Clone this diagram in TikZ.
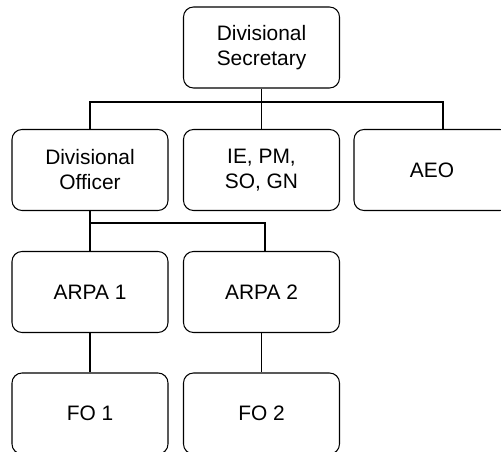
\documentclass[tikz,border=0pt]{standalone}
\usepackage{fontspec}
\setmainfont{Liberation Sans}
\usetikzlibrary{calc}

\tikzset{
  post/.style={draw, rounded corners=0.2cm, minimum width=3.12cm, minimum height=1.62cm,
    inner sep=0pt, align=center, line width=0.6pt, font=\fontsize{11.9}{14.2}\selectfont},
  link/.style={line width=0.6pt}
}

\begin{document}
\begin{tikzpicture}
\clip (0,0) rectangle (10.02,-9.04);
% boxes
\coordinate (S) at (5.23,-0.95);
\node[post] (ds) at (S) {Divisional\\Secretary};
\coordinate (R1) at (1.80,-3.40);
\node[post] (do) at (R1) {Divisional\\Officer};
\coordinate (R2) at (5.23,-3.40);
\node[post] (ie) at (R2) {IE, PM,\\SO, GN};
\coordinate (R3) at (8.64,-3.40);
\node[post] (aeo) at (R3) {AEO};
\coordinate (A1) at (1.80,-5.84);
\node[post] (arpa1) at (A1) {ARPA 1};
\coordinate (A2) at (5.23,-5.84);
\node[post] (arpa2) at (A2) {ARPA 2};
\coordinate (F1) at (1.80,-8.27);
\node[post] (fo1) at (F1) {FO 1};
\coordinate (F2) at (5.23,-8.27);
\node[post] (fo2) at (F2) {FO 2};
% lines
\coordinate (B1) at (0,-2.04);
\coordinate (B2) at (0,-4.46);
\draw[link] (ds.south) -- (ie.north);
\draw[link] (do.north) -- (do.north |- B1) -- ([xshift=0.22cm]aeo.north |- B1) -- ([xshift=0.22cm]aeo.north);
\draw[link] (do.south) -- (arpa1.north);
\draw[link] (do.south |- B2) -| ([xshift=0.07cm]arpa2.north);
\draw[link] (arpa1.south) -- (fo1.north);
\draw[link] (arpa2.south) -- (fo2.north);
\end{tikzpicture}
\end{document}
